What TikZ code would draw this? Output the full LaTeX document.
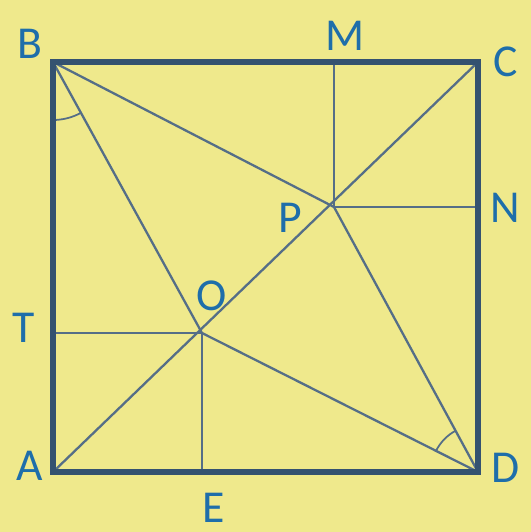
\documentclass[tikz,border=0pt]{standalone}
\usepackage{fontspec}
\setmainfont{Carlito}
\usetikzlibrary{calc}
\definecolor{bgyellow}{RGB}{239,233,140}
\definecolor{edgeblue}{RGB}{52,82,112}
\definecolor{lineblue}{RGB}{85,110,135}
\definecolor{labelblue}{RGB}{30,110,170}
\begin{document}
\begin{tikzpicture}[x=0.02cm, y=-0.02cm,
        every node/.style={font=\fontsize{26}{30}\selectfont, text=labelblue},
        seg/.style={draw=lineblue, line width=1.3pt},
        edge/.style={draw=edgeblue, line width=3pt, line join=miter}]
        \fill[bgyellow] (0,0) rectangle (531,532);
        \useasboundingbox (0,0) rectangle (531,532);
        % points
        \coordinate (A) at (53,472);
        \coordinate (B) at (53,62);
        \coordinate (C) at (478,62);
        \coordinate (D) at (478,472);
        \coordinate (O) at (202,333);
        \coordinate (P) at (334,207);
        \coordinate (M) at (334,62);
        \coordinate (N) at (478,207);
        \coordinate (T) at (53,333);
        \coordinate (E) at (202,472);
        % labels
        \node (lA) at (30,466) {A};
        \node (lB) at (30,44) {B};
        \node (lC) at (506,62) {C};
        \node (lD) at (506,468) {D};
        \node (lM) at (345,36) {M};
        \node (lN) at (505,208) {N};
        \node (lO) at (212,296) {O};
        \node (lP) at (290,218) {P};
        \node (lT) at (24,328) {T};
        \node[inner sep=0pt] (lE) at (214,508) {E};
        % inner lines
        \draw[seg] (A)--(C);
        \draw[seg] (B)--(O)--(D);
        \draw[seg] (B)--(P)--(D);
        \draw[seg] (T)--(O)--(E);
        \draw[seg] (M)--(P)--(N);
        % angle marks
        \draw[seg, line width=1pt] ($(B)!1.16cm!(A)$) arc[start angle=-90, end angle=-61.2, radius=1.16cm];
        \draw[seg, line width=1pt] ($(D)!0.94cm!(P)$) arc[start angle=118.5, end angle=153.3, radius=0.94cm];
        \draw[edge] (A) rectangle (C);
\end{tikzpicture}
\end{document}
